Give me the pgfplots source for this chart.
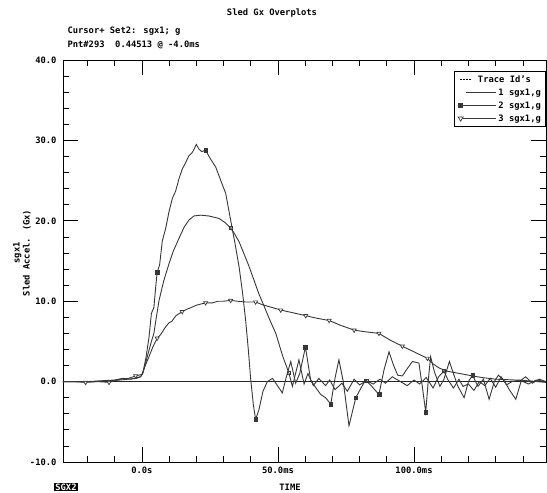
\documentclass[border=0pt]{standalone}
\usepackage{fontspec}
\setmainfont{DejaVu Sans Mono}
\usepackage{pgfplots}
\pgfplotsset{compat=1.18}
\definecolor{trace}{RGB}{55,55,55}

\begin{document}
\begin{tikzpicture}[font=\fontsize{8.8}{10}\selectfont\bfseries]
\path[use as bounding box] (-63pt,-31pt) rectangle (484pt,462pt);
\begin{axis}[
  at={(0pt,0pt)}, anchor=south west,
  scale only axis, width=483pt, height=402pt,
  xmin=-29, xmax=148.5, ymin=-10, ymax=40,
  xtick={0,50,100}, xticklabels={0.0s,50.0ms,100.0ms},
  minor xtick={-20,-10,10,20,30,40,60,70,80,90,110,120,130,140},
  ytick={-10,0,10,20,30,40},
  yticklabels={-10.0,0.0,10.0,20.0,30.0,40.0},
  minor y tick num=4,
  tick align=inside, major tick length=15pt, minor tick length=6pt,
  every tick/.style={black, line width=0.7pt},
  axis line style={black, line width=0.9pt},
  xticklabel style={yshift=-1pt},
  yticklabel style={xshift=-3pt},
  ylabel={sgx1\\Sled Accel. (Gx)},
  ylabel style={at={(axis description cs:-0.085,0.52)}, anchor=center, align=center},
  legend style={at={(rel axis cs:1,0.972)}, anchor=north east,
    draw=black, line width=0.7pt, fill=white,
    font=\fontsize{8.8}{9}\selectfont\bfseries,
    nodes={inner sep=1.8pt}, row sep=1.5pt, cells={anchor=west}},
  clip=false
]
\addlegendimage{legend image code/.code={\draw[black, line width=0.7pt, dash pattern=on 2pt off 1.2pt] (0.02cm,0cm) -- (0.45cm,0cm);}}
\addlegendentry{\hspace*{-0.72cm}Trace Id's}

% zero line
\addplot[black!85, line width=0.5pt, forget plot] coordinates {(-29,0) (148.5,0)};

% trace 1 (mid peak)
\addplot[trace, line width=0.9pt,
  legend image code/.code={\draw[trace, line width=0.9pt] (0.25cm,0cm) -- (1.3cm,0cm);}]
coordinates {
(-29,0)(-24,0.0)(-18,0.0)(-12,0.1)(-8,0.2)(-5,0.3)(-2,0.4)(-0.5,0.6)(0.5,1.2)
(1.5,2.5)(2.6,3.9)(3.5,5.0)(4.4,6.0)(5.3,8.0)(6.3,10.1)(8.0,12.5)(9.9,14.6)
(11.5,16.2)(13.6,17.8)(15.5,19.2)(17.3,20.1)(19.1,20.6)(21.6,20.7)(24.6,20.6)
(28.3,20.3)(30.5,19.8)(32.6,19.1)(34.2,18.3)(35.7,17.4)(37.5,15.9)(39.3,14.4)
(41.2,12.6)(43.0,10.9)(44.9,9.4)(46.7,7.9)(49.2,6.0)(51.8,3.1)(54.0,1.1)
(55.3,-0.6)(57.7,2.7)(59.6,-0.3)(61,1.0)(63,-0.5)(65,0.4)(67.5,-0.5)(69,0.2)
(71,-1.0)(73.5,-0.2)(75.5,-1.2)(78,0.3)(80,-0.4)(82.5,0.1)(85,-0.3)(87.5,0.3)
(89.5,-0.2)(92,0.6)(95,0.0)(97.5,-0.5)(100,0.2)(102,-0.3)(104.5,0.5)(107,-0.8)
(109,0.6)(111,1.3)(112.5,0.2)(114.5,-0.8)(116.5,0.3)(118,-0.6)(120,-0.3)
(122,-1.1)(124,0.0)(126,-0.5)(128,0.4)(130,-0.7)(132,0.6)(134,-0.4)(136,0.0)
(139,0.2)(142,-0.3)(145,0.2)(148.5,0.0)
};
\addlegendentry{1 sgx1,g}

% trace 2 (high peak)
\addplot[trace, line width=0.9pt,
  legend image code/.code={\draw[trace, line width=0.9pt] (0.05cm,0cm) -- (1.3cm,0cm);
    \fill[trace] (0.05cm,0cm) +(-1.9pt,-1.9pt) rectangle +(1.9pt,1.9pt);}]
coordinates {
(-29,0)(-25,0.0)(-20,0.0)(-15,0.1)(-10,0.2)(-7,0.4)(-4,0.3)(-2,0.5)(-0.5,0.6)
(0.3,1.0)(1.5,3.0)(2.6,5.5)(3.5,8.5)(4.4,9.2)(5.0,11.5)(5.6,13.6)(6.5,14.5)
(7.5,17.5)(8.7,19.0)(10.0,21.2)(11.2,22.8)(12.4,23.7)(13.6,25.2)(14.8,26.4)
(16.0,27.2)(17.3,28.1)(18.5,28.5)(19.3,29.0)(20.0,29.5)(21.0,28.9)(22.0,28.6)
(23.4,28.8)(25.0,27.8)(27.1,26.7)(29.0,25.0)(30.8,23.4)(32.6,20.1)(34.2,17.2)
(35.7,14.3)(37.0,11.0)(38.1,7.7)(39.1,4.0)(40.0,0.2)(41.0,-3.0)(41.8,-4.7)
(43.0,-3.5)(44.5,-1.2)(46.1,0.0)(48,0.4)(50,-0.6)(51.6,-1.4)(53,0.5)(54.7,2.5)
(56.5,-0.2)(58,1.0)(60.1,4.3)(62,0.2)(64,-0.8)(65.7,-1.6)(67.5,-2.0)(69.4,-2.8)
(71,0.5)(72.4,2.7)(74,0.0)(76.1,-5.5)(78.6,-2.0)(80.5,-0.8)(82.2,0.2)(84.5,-0.6)
(87.1,-1.6)(89,1.5)(90.8,3.7)(92.5,2.0)(94,0.8)(95.7,0.7)(97.5,1.6)(99.4,2.5)
(101.8,2.3)(103,-0.5)(104.3,-3.8)(105.2,0.0)(106.1,3.1)(107.5,1.2)(109.5,-0.6)
(111,0.3)(113,2.5)(114.5,1.0)(116,-0.5)(118.4,-2.0)(120,0.0)(121.5,0.8)
(123.5,-0.6)(125.5,0.3)(127.6,-2.2)(129.5,0.0)(131,0.8)(133,0.2)(135,-1.0)
(137.4,-2.2)(139.5,0.2)(141,0.6)(143.5,-0.2)(146,0.3)(148.5,0.0)
};
\addlegendentry{2 sgx1,g}

% trace 3 (low hump)
\addplot[trace, line width=0.9pt,
  legend image code/.code={\draw[trace, line width=0.9pt] (0.05cm,0cm) -- (1.3cm,0cm);
    \draw[trace, fill=white, line width=0.7pt] (0.05cm,-2.3pt) -- +(-2.5pt,4.2pt) -- +(2.5pt,4.2pt) -- cycle;}]
coordinates {
(-29,0.0)(-25,0.0)(-20.7,-0.1)(-16,0.0)(-12.1,-0.1)(-8,0.3)(-5,0.4)(-2.3,0.7)
(0,0.9)(1,1.8)(2.6,3.1)(4,4.3)(5.6,5.4)(7,5.9)(8.5,6.7)(9.9,7.3)(11,7.5)
(12.5,8.2)(14.8,8.7)(16.5,9.0)(18,9.2)(20,9.5)(23.4,9.8)(26,9.8)(28,10.0)
(30,10.0)(32.6,10.1)(35,10.0)(38,9.9)(41.8,9.9)(44,9.6)(47,9.3)(51,8.9)
(55,8.6)(60.2,8.2)(64,7.9)(68.8,7.6)(73,7.0)(78,6.4)(82,6.2)(87.1,6.0)
(91,5.2)(95.7,4.4)(100,3.7)(104.9,2.9)(107,2.2)(109.2,1.7)(112,1.3)(115.3,1.1)
(120,0.8)(125,0.5)(130,0.3)(137,0.2)(142,0.1)(148.5,-0.1)
};
\addlegendentry{3 sgx1,g}

% markers
\addplot[only marks, mark=square, mark size=1.7pt, trace, line width=0.7pt, forget plot]
coordinates {(32.6,19.1)(54.0,1.1)(82.5,0.1)(111,1.3)};
\addplot[only marks, mark=square*, mark size=1.8pt, trace, forget plot]
coordinates {(5.6,13.6)(23.4,28.8)(41.8,-4.7)(60.1,4.3)(69.4,-2.8)(78.6,-2.0)(87.1,-1.6)(104.3,-3.8)(121.5,0.8)};
\addplot[only marks, mark=triangle*, mark size=2.3pt, trace, line width=0.7pt,
  mark options={rotate=180, fill=white}, forget plot]
coordinates {(-20.7,-0.1)(-12.1,-0.1)(-2.3,0.7)(5.6,5.4)(14.8,8.7)(23.4,9.8)(32.6,10.1)(41.8,9.9)(51,8.9)(60.2,8.2)(68.8,7.6)(78,6.4)(87.1,6.0)(95.7,4.4)(104.9,2.9)};
\end{axis}

\node at (209pt,449pt) {Sled Gx Overplots};
\node[anchor=west] at (1pt,431pt) {Cursor+ Set2: sgx1; g};
\node[anchor=west] at (1pt,417pt) {Pnt\#293\ \ 0.44513 @ -4.0ms};
\node at (227pt,-25pt) {TIME};
\node[fill=black, text=white, inner sep=1pt] at (3pt,-25pt) {SGX2};
\end{tikzpicture}
\end{document}
